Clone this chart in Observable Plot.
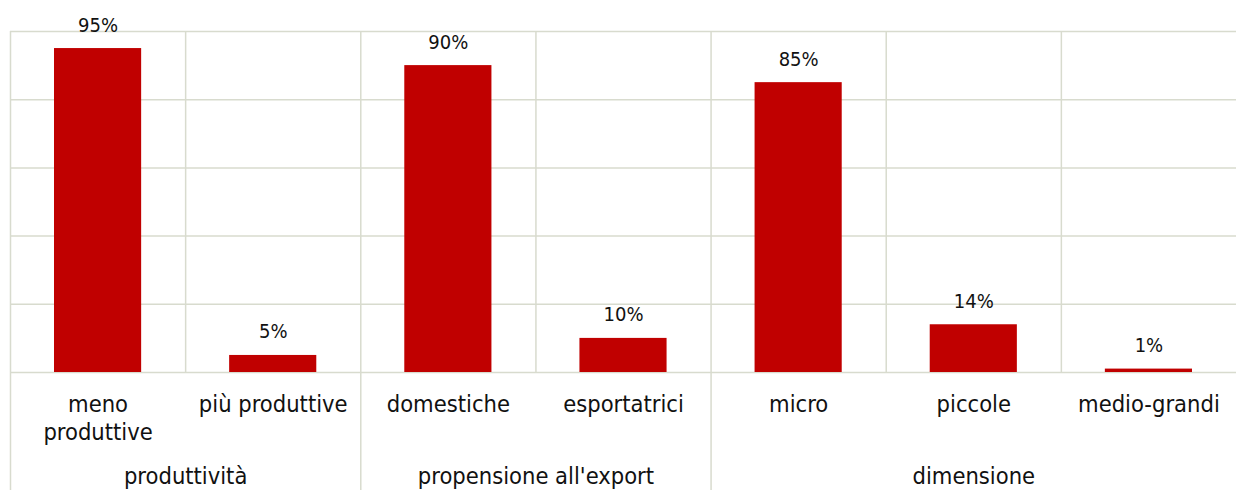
<!DOCTYPE html>
<html>
<head>
<meta charset="utf-8">
<script src="https://cdn.jsdelivr.net/npm/d3@7"></script>
<script src="https://cdn.jsdelivr.net/npm/@observablehq/plot@0.6"></script>
<style>
  html, body { margin: 0; padding: 0; background: #fff; }
  #chart svg { display: block; overflow: visible; }
</style>
</head>
<body>
<div id="chart"></div>
<script>
const categories = ["meno\nproduttive", "più produttive", "domestiche", "esportatrici", "micro", "piccole", "medio-grandi"];
const values = [95, 5, 90, 10, 85, 14, 1];
const groups = ["produttività", "propensione all'export", "dimensione"];
const groupSizes = [2, 2, 3];
const yTicks = [0, 20, 40, 60, 80, 100];

const data = categories.map((c, i) => ({i, category: c, value: values[i]}));
let start = 0;
const groupData = groups.map((g, k) => {
  const d = {name: g, start, end: start + groupSizes[k]};
  start += groupSizes[k];
  return d;
});

const grid = "#d8dbce";
const font = "DejaVu Sans Condensed";

const chart = Plot.plot({
  width: 1236,
  height: 490,
  marginLeft: 10,
  marginRight: 0,
  marginTop: 31,
  marginBottom: 118,
  style: {fontFamily: font, color: "#111", background: "#fff"},
  x: {domain: [0, categories.length], axis: null},
  y: {domain: [0, 100], axis: null},
  marks: [
    Plot.ruleY(yTicks, {stroke: grid, strokeWidth: 1.5}),
    Plot.ruleX(data, {x: "i", y1: 0, y2: 100, stroke: grid, strokeWidth: 1.5}),
    Plot.ruleX(groupData, {x: "start", y1: 0, y2: -35, stroke: grid, strokeWidth: 1.5}),
    Plot.rectY(data, {x1: "i", x2: d => d.i + 1, y: "value", insetLeft: 44, insetRight: 44, fill: "#c00000"}),
    Plot.text(data, {x: d => d.i + 0.5, y: "value", text: d => d.value + "%", lineAnchor: "bottom", dy: -17, fontSize: 20, fill: "#111"}),
    Plot.text(data, {x: d => d.i + 0.5, y: 0, text: "category", lineAnchor: "top", dy: 19.5, fontSize: 23.5, lineHeight: 1.19, fill: "#111"}),
    Plot.text(groupData, {x: d => (d.start + d.end) / 2, y: 0, text: "name", lineAnchor: "top", dy: 94.5, fontSize: 23.5, fill: "#111"})
  ]
});
document.getElementById("chart").appendChild(chart);
</script>
</body>
</html>
